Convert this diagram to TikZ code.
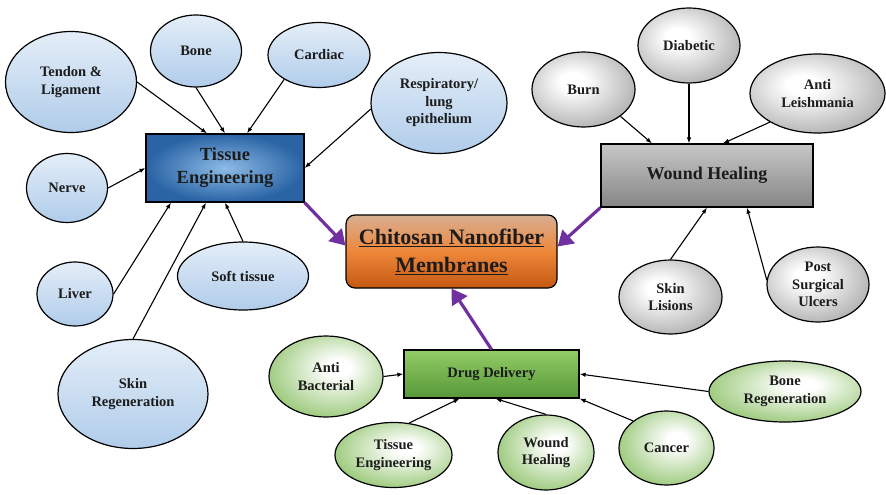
\documentclass[tikz,border=0pt]{standalone}
\usepackage{fontspec}
\setmainfont{Liberation Serif}
\usetikzlibrary{shapes.geometric,arrows.meta}

\definecolor{arrowpurple}{HTML}{7030A0}
\definecolor{leafbluetop}{HTML}{E4EEF8}
\definecolor{leafbluebot}{HTML}{B0CCEA}
\definecolor{tedark}{HTML}{2A64A5}
\definecolor{telight}{HTML}{8DBBE6}
\definecolor{leafgray}{HTML}{A0A0A0}
\definecolor{leafgreen}{HTML}{8CC167}
\definecolor{whtop}{HTML}{C6C6C6}
\definecolor{whbot}{HTML}{868686}
\definecolor{ddtop}{HTML}{92CC66}
\definecolor{ddbot}{HTML}{579838}
\definecolor{chtop}{HTML}{D8AE92}
\definecolor{chmid}{HTML}{EE873A}
\definecolor{chbot}{HTML}{C55812}
\definecolor{inktext}{HTML}{1C1C1C}

\pgfdeclareradialshading{grayglow}{\pgfpoint{-6bp}{6bp}}{color(0bp)=(white); color(6bp)=(white); color(36bp)=(leafgray); color(70bp)=(leafgray)}
\pgfdeclareradialshading{greenglow}{\pgfpoint{6bp}{6bp}}{color(0bp)=(white); color(5bp)=(white); color(34bp)=(leafgreen); color(70bp)=(leafgreen)}

\tikzset{
  leaf/.style={ellipse, draw, line width=1.2pt, inner sep=0pt, align=center,
    text=inktext, font=\bfseries\fontsize{14.5}{17.5}\selectfont},
  blueleaf/.style={leaf, top color=leafbluetop, bottom color=leafbluebot},
  grayleaf/.style={leaf, shading=grayglow},
  greenleaf/.style={leaf, shading=greenglow},
  hubbox/.style={rectangle, draw, line width=1.2pt, inner sep=0pt, align=center,
    text=inktext, font=\bfseries\fontsize{18.5}{23}\selectfont},
  spoke/.style={line width=1.1pt, -{Latex[length=6pt,width=4.5pt]}},
  feed/.style={line width=3.2pt, arrowpurple, -{Triangle[length=15pt,width=18pt]}}
}

\begin{document}
\begin{tikzpicture}[x=1pt,y=-1pt]
  \useasboundingbox (0,0) rectangle (886,495);

  % centre
  \node[hubbox, rounded corners=9pt, minimum width=211pt, minimum height=73pt,
        top color=chtop, bottom color=chbot, middle color=chmid,
        font=\bfseries\fontsize{22}{28}\selectfont]
        (chitosan) at (451.5,251.5) {\underline{Chitosan Nanofiber}\\\underline{Membranes}};

  % hubs
  \node[hubbox, minimum width=158pt, minimum height=68pt,
        inner color=telight, outer color=tedark] (te) at (225,168) {Tissue\\Engineering};
  \node[hubbox, minimum width=212pt, minimum height=63pt,
        top color=whtop, bottom color=whbot,
        font=\bfseries\fontsize{18}{22}\selectfont] (wh) at (707,175.5) {Wound Healing};
  \node[hubbox, minimum width=175pt, minimum height=48pt,
        top color=ddtop, bottom color=ddbot,
        font=\bfseries\fontsize{14.5}{17.5}\selectfont] (dd) at (491.5,374) {Drug Delivery};

  % tissue engineering leaves
  \node[blueleaf, minimum width=131pt, minimum height=101pt] (tendon) at (71,82) {Tendon \&\\Ligament};
  \node[blueleaf, minimum width=91pt, minimum height=72pt] (bone) at (196,51) {Bone};
  \node[blueleaf, minimum width=102pt, minimum height=65pt] (cardiac) at (319,55) {Cardiac};
  \node[blueleaf, minimum width=136pt, minimum height=101pt] (resp) at (439,103) {Respiratory/\\lung\\epithelium};
  \node[blueleaf, minimum width=81pt, minimum height=69pt] (nerve) at (67,188) {Nerve};
  \node[blueleaf, minimum width=76pt, minimum height=64pt] (liver) at (75,294) {Liver};
  \node[blueleaf, minimum width=131pt, minimum height=68pt] (soft) at (243,276) {Soft tissue};
  \node[blueleaf, minimum width=150pt, minimum height=109pt] (skin) at (133,394) {Skin\\Regeneration};

  % wound healing leaves
  \node[grayleaf, minimum width=103pt, minimum height=75pt] (burn) at (583.5,89.5) {Burn};
  \node[grayleaf, minimum width=102pt, minimum height=75pt] (diabetic) at (689,45.5) {Diabetic};
  \node[grayleaf, minimum width=135pt, minimum height=79pt] (leish) at (817.5,93.5) {Anti\\Leishmania};
  \node[grayleaf, minimum width=103pt, minimum height=74pt] (lesion) at (670.5,297) {Skin\\Lisions};
  \node[grayleaf, minimum width=102pt, minimum height=75pt] (postsurg) at (818,284.5) {Post\\Surgical\\Ulcers};

  % drug delivery leaves
  \node[greenleaf, minimum width=114pt, minimum height=81pt] (antibac) at (326,376.5) {Anti\\Bacterial};
  \node[greenleaf, minimum width=117pt, minimum height=65pt] (tissue2) at (393.5,455) {Tissue\\Engineering};
  \node[greenleaf, minimum width=96pt, minimum height=75pt] (wound2) at (546,452.5) {Wound\\Healing};
  \node[greenleaf, minimum width=95pt, minimum height=74pt] (cancer) at (666.5,448) {Cancer};
  \node[greenleaf, minimum width=152pt, minimum height=61pt] (boneregen) at (785,391.5) {Bone\\Regeneration};

  % thin connectors: from / to / shift along the hub side
  \foreach \a/\b/\s in {tendon.east/te.north/-18, bone.south/te.north/0,
      cardiac.215/te.north/22, resp.185/te.east/0, nerve.east/te.west/0,
      liver.east/te.south/-54, skin.north/te.south/-19, soft.north/te.south/0,
      burn.-36/wh.north/-55, diabetic.south/wh.north/-18,
      leish.211/wh.north/16, lesion.north/wh.south/0, postsurg.175/wh.south/40,
      antibac.east/dd.west/0, tissue2.64/dd.south/-32,
      wound2.north/dd.south/4, cancer.141/dd.south east/0, boneregen.west/dd.east/0}
    \draw[spoke] (\a) -- ([xshift=\s pt]\b);

  % purple feeds
  \draw[feed] (te.south east) -- ([yshift=6pt]chitosan.west);
  \draw[feed] (wh.south west) -- ([yshift=5pt]chitosan.east);
  \draw[feed] (dd.north) -- (chitosan.south);
\end{tikzpicture}
\end{document}
